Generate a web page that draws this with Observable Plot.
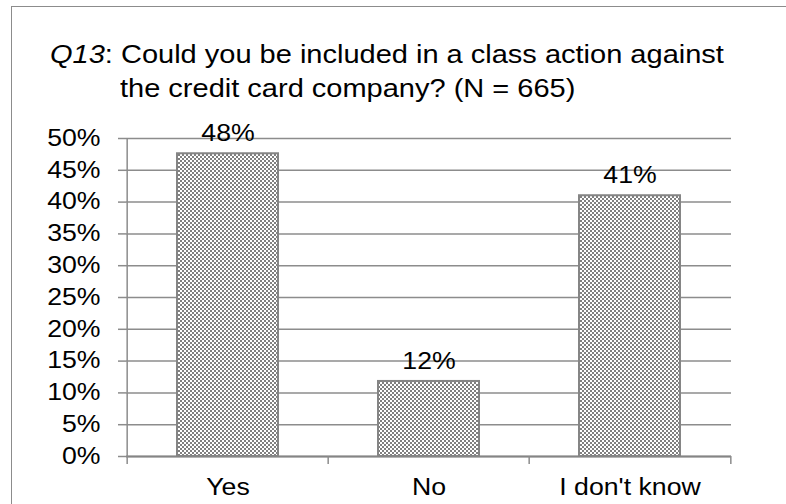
<!DOCTYPE html>
<html><head><meta charset="utf-8">
<script src="https://cdn.jsdelivr.net/npm/d3@7"></script>
<script src="https://cdn.jsdelivr.net/npm/@observablehq/plot@0.6"></script>
<style>
body{margin:0;background:#fff;}
#wrap{position:relative;width:786px;height:504px;overflow:hidden;font-family:"Liberation Sans",Arial,sans-serif;background:#fff;}
#frame{position:absolute;left:11px;top:6px;width:800px;height:520px;border:1px solid #8c8c8c;box-sizing:border-box;}
#chart{position:absolute;left:0;top:0;}
.t{position:absolute;font-size:25px;line-height:25px;white-space:nowrap;transform:scaleX(1.16);transform-origin:0 0;color:#000;}
</style></head><body>
<div id="wrap">
<div id="frame"></div>
<div id="chart"></div>
<div class="t" style="left:50px;top:42px"><i>Q13</i>: Could you be included in a class action against</div>
<div class="t" style="left:120px;top:76px">the credit card company? (N = 665)</div>
</div>
<script>
const categories = ["Yes", "No", "I don't know"];
const values = [0.476, 0.118, 0.41];
const yTicks = [0, 0.05, 0.10, 0.15, 0.20, 0.25, 0.30, 0.35, 0.40, 0.45, 0.50];

const W = 786, H = 504, ML = 126, MR = 55, MT = 138, MB = 48;
const step = (W - ML - MR) / categories.length;
const data = categories.map((c, i) => ({category: c, value: values[i]}));
const pct = d3.format(".0%");
const gridColor = "#8c8c8c";

const plot = Plot.plot({
  width: W, height: H,
  marginLeft: ML, marginRight: MR, marginTop: MT, marginBottom: MB,
  style: {fontFamily: '"Liberation Sans", Arial, sans-serif', fontSize: "23px", background: "transparent", color: "#000", overflow: "visible"},
  x: {domain: categories, paddingInner: 0.5, paddingOuter: 0.25, label: null},
  y: {domain: [0, 0.5], label: null},
  marks: [
    Plot.gridY(yTicks, {stroke: gridColor, strokeOpacity: 1, strokeWidth: 1.5}),
    Plot.axisY(yTicks, {tickSize: 8, tickPadding: 18, tickFormat: pct, stroke: gridColor, strokeWidth: 1.5, fontSize: 23, label: null}),
    Plot.barY(data, {x: "category", y: "value", fill: "url(#chk)", stroke: "#858585", strokeWidth: 2}),
    Plot.ruleY([0], {stroke: "#858585", strokeWidth: 2}),
    Plot.ruleX(categories.slice(0, 1), {y1: 0, y2: 0.5, dx: -step / 2, stroke: gridColor, strokeWidth: 1.5}),
    Plot.ruleX(categories, {y1: 0, y2: 0, insetBottom: -8, dx: -step / 2, stroke: gridColor, strokeWidth: 1.5}),
    Plot.ruleX(categories.slice(-1), {y1: 0, y2: 0, insetBottom: -8, dx: step / 2, stroke: gridColor, strokeWidth: 1.5}),
    Plot.axisX({tickSize: 0, tickPadding: 22, fontSize: 23, label: null}),
    Plot.text(data, {x: "category", y: "value", text: d => pct(d.value), dy: -20, fontSize: 23, fill: "#000"})
  ]
});

const svg = d3.select(plot);
const defs = svg.insert("defs", ":first-child");
const p = defs.append("pattern").attr("id", "chk").attr("patternUnits", "userSpaceOnUse").attr("width", 4).attr("height", 4);
p.append("rect").attr("width", 4).attr("height", 4).attr("fill", "#fff");
p.append("rect").attr("width", 2).attr("height", 2).attr("fill", "#808080");
p.append("rect").attr("x", 2).attr("y", 2).attr("width", 2).attr("height", 2).attr("fill", "#808080");

plot.querySelectorAll("text").forEach(t => {
  const tr = t.getAttribute("transform") || "";
  if (tr.includes("translate")) t.setAttribute("transform", tr + " scale(1.16,1)");
});

document.getElementById("chart").appendChild(plot);
</script>
</body></html>
